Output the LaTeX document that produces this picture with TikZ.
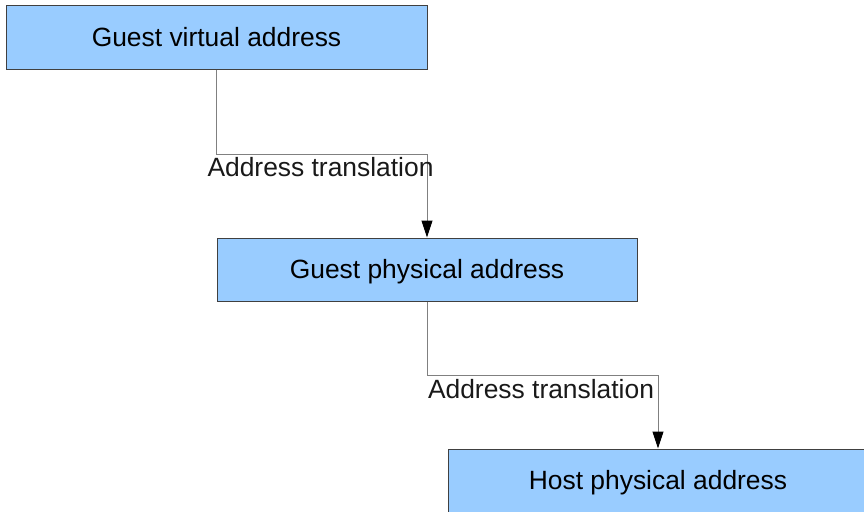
\documentclass[tikz,border=0pt]{standalone}
\usepackage{fontspec}
\setmainfont{Liberation Sans}
\usetikzlibrary{arrows.meta}

\begin{document}
\begin{tikzpicture}[x=1pt,y=-1pt,
  addrbox/.style={draw=black!75,line width=1pt,fill={rgb,255:red,153;green,204;blue,255},
    minimum width=420pt,minimum height=63pt,inner sep=0pt,
    text height=18.9pt,text depth=0pt,font=\fontsize{26.4}{30}\selectfont},
  transl/.style={draw=black!50,line width=1pt,
    -{Triangle[length=17pt,width=11pt,color=black,fill=black]}},
  transllabel/.style={anchor=base,inner sep=0pt,text=black!90,font=\fontsize{26.4}{30}\selectfont}]
\useasboundingbox (0,0) rectangle (864,511);
\clip (0,0) rectangle (864,511);

\node[addrbox,minimum width=421pt] (gva) at (216.5,37.5) {Guest virtual address};
\node[addrbox] (gpa) at (427,269.5) {Guest physical address};
\node[addrbox] (hpa) at (658,480.5) {Host physical address};

\coordinate (bend1) at (427,154);
\coordinate (bend2) at (658,375);

\draw[transl] (gva.south) |- (bend1) -- (gpa.north);
\draw[transl] (gpa.south) |- (bend2) -- (hpa.north);

\node[transllabel] (lbl1) at (320.5,176) {Address translation};
\node[transllabel] (lbl2) at (541,398) {Address translation};
\end{tikzpicture}
\end{document}
